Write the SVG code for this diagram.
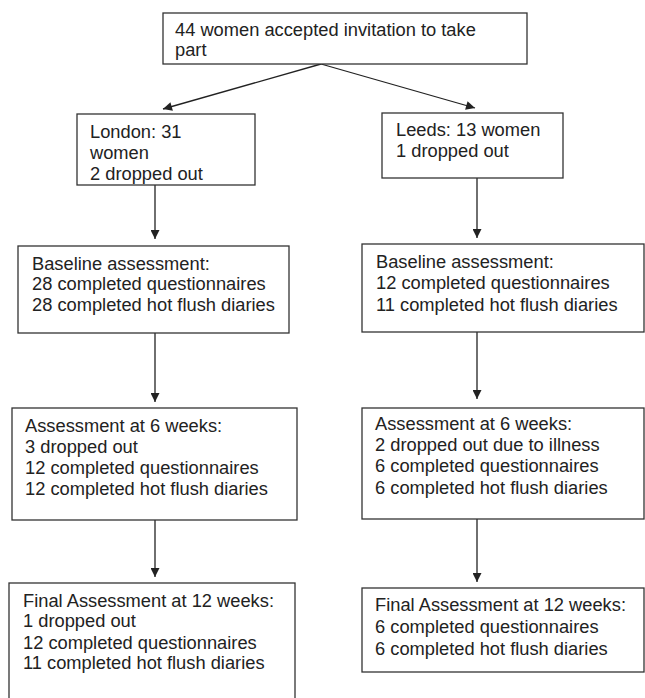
<svg xmlns="http://www.w3.org/2000/svg" width="645" height="698" viewBox="0 0 645 698">
<defs>
<style>
.box{fill:#fff;stroke:#333;stroke-width:1.3}
.t{font-family:"Liberation Sans",Arial,sans-serif;font-size:18.3px;fill:#222}
.c{stroke:#222;stroke-width:1.3;fill:none;marker-end:url(#ah)}
</style>
<marker id="ah" viewBox="0 0 10 10" refX="10" refY="5" markerUnits="userSpaceOnUse" markerWidth="11" markerHeight="9" orient="auto">
<path d="M0,0 L10,5 L0,10 z" fill="#222"/>
</marker>
</defs>
<rect width="645" height="698" fill="#fff"/>
<g id="connectors">
<line class="c" x1="321" y1="64" x2="163" y2="109"/>
<line class="c" x1="321" y1="64" x2="475" y2="108"/>
<line class="c" x1="155" y1="181" x2="155" y2="239"/>
<line class="c" x1="477" y1="178" x2="477" y2="238"/>
<line class="c" x1="155" y1="333" x2="155" y2="402"/>
<line class="c" x1="477" y1="332" x2="477" y2="399"/>
<line class="c" x1="155" y1="512" x2="155" y2="577"/>
<line class="c" x1="477" y1="511" x2="477" y2="582"/>
</g>
<g id="top">
<rect class="box" x="163" y="13" width="364" height="51"/>
<text class="t" x="175" y="36">44 women accepted invitation to take</text>
<text class="t" x="175" y="56">part</text>
</g>
<g id="london">
<rect class="box" x="77" y="114" width="178" height="71"/>
<text class="t" x="90" y="138">London: 31</text>
<text class="t" x="90" y="159">women</text>
<text class="t" x="90" y="180">2 dropped out</text>
</g>
<g id="leeds">
<rect class="box" x="382" y="113" width="181" height="65"/>
<text class="t" x="396" y="136">Leeds: 13 women</text>
<text class="t" x="396" y="157">1 dropped out</text>
</g>
<g id="baselineLondon">
<rect class="box" x="18" y="246" width="271" height="87"/>
<text class="t" x="32" y="270">Baseline assessment:</text>
<text class="t" x="32" y="290">28 completed questionnaires</text>
<text class="t" x="32" y="311">28 completed hot flush diaries</text>
</g>
<g id="baselineLeeds">
<rect class="box" x="362" y="244" width="282" height="88"/>
<text class="t" x="376" y="268">Baseline assessment:</text>
<text class="t" x="376" y="289">12 completed questionnaires</text>
<text class="t" x="376" y="311">11 completed hot flush diaries</text>
</g>
<g id="sixWeeksLondon">
<rect class="box" x="12" y="408" width="285" height="112"/>
<text class="t" x="25" y="432">Assessment at 6 weeks:</text>
<text class="t" x="25" y="453">3 dropped out</text>
<text class="t" x="25" y="474">12 completed questionnaires</text>
<text class="t" x="25" y="495">12 completed hot flush diaries</text>
</g>
<g id="sixWeeksLeeds">
<rect class="box" x="362" y="408" width="282" height="111"/>
<text class="t" x="375" y="430">Assessment at 6 weeks:</text>
<text class="t" x="375" y="451">2 dropped out due to illness</text>
<text class="t" x="375" y="472">6 completed questionnaires</text>
<text class="t" x="375" y="494">6 completed hot flush diaries</text>
</g>
<g id="finalLondon">
<rect class="box" x="9" y="583" width="286" height="125"/>
<text class="t" x="23" y="607">Final Assessment at 12 weeks:</text>
<text class="t" x="23" y="627">1 dropped out</text>
<text class="t" x="23" y="649">12 completed questionnaires</text>
<text class="t" x="23" y="669">11 completed hot flush diaries</text>
</g>
<g id="finalLeeds">
<rect class="box" x="362" y="588" width="282" height="84"/>
<text class="t" x="375" y="611">Final Assessment at 12 weeks:</text>
<text class="t" x="375" y="633">6 completed questionnaires</text>
<text class="t" x="375" y="655">6 completed hot flush diaries</text>
</g>
</svg>
